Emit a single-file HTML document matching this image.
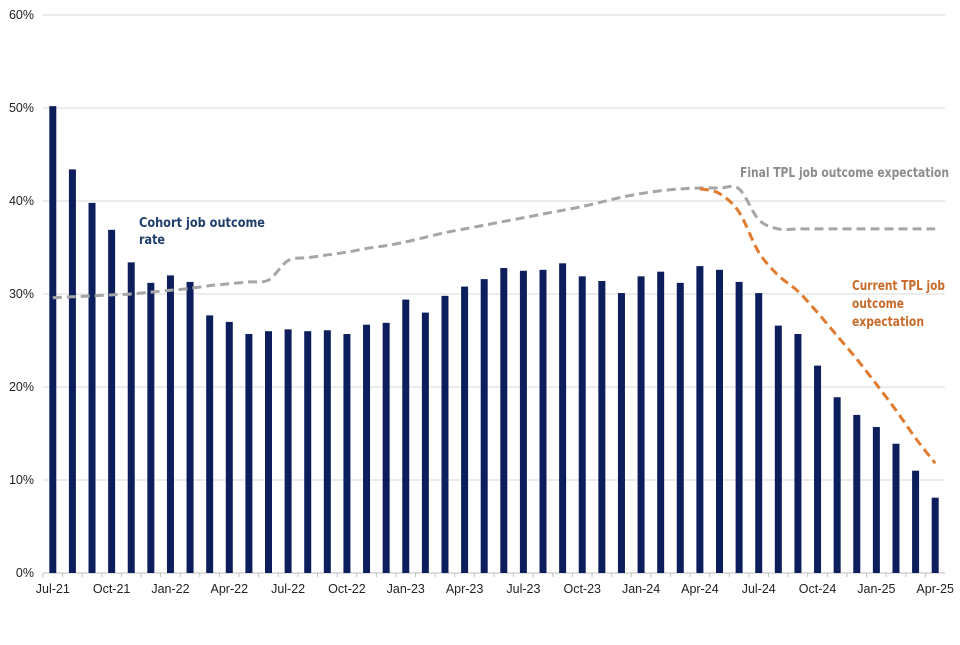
<!DOCTYPE html>
<html><head><meta charset="utf-8"><style>
body{margin:0;background:#fff;}
svg text{font-family:"Liberation Sans",Arial,sans-serif;}
.lab{font-family:"DejaVu Sans Condensed","Liberation Sans",sans-serif;font-size:13px;font-weight:bold;}
</style></head><body>
<svg id="chart" width="960" height="640" xmlns="http://www.w3.org/2000/svg">
<g id="grid"></g>
<g id="yaxis"></g>
<g id="bars"></g>
<g id="lines"></g>
<g id="xaxis"></g>
<text class="lab" x="139" y="227" fill="#1f3f6e" textLength="126" lengthAdjust="spacingAndGlyphs">Cohort job outcome</text>
<text class="lab" x="139" y="244" fill="#1f3f6e" textLength="26" lengthAdjust="spacingAndGlyphs">rate</text>
<text class="lab" x="740" y="177" fill="#8c8c8c" textLength="209" lengthAdjust="spacingAndGlyphs">Final TPL job outcome expectation</text>
<text class="lab" x="852" y="290" fill="#c86b2a" textLength="93" lengthAdjust="spacingAndGlyphs">Current TPL job</text>
<text class="lab" x="852" y="308" fill="#c86b2a" textLength="52" lengthAdjust="spacingAndGlyphs">outcome</text>
<text class="lab" x="852" y="326" fill="#c86b2a" textLength="72" lengthAdjust="spacingAndGlyphs">expectation</text>
</svg>
<script>
const months=["Jul-21","Aug-21","Sep-21","Oct-21","Nov-21","Dec-21","Jan-22","Feb-22","Mar-22","Apr-22","May-22","Jun-22","Jul-22","Aug-22","Sep-22","Oct-22","Nov-22","Dec-22","Jan-23","Feb-23","Mar-23","Apr-23","May-23","Jun-23","Jul-23","Aug-23","Sep-23","Oct-23","Nov-23","Dec-23","Jan-24","Feb-24","Mar-24","Apr-24","May-24","Jun-24","Jul-24","Aug-24","Sep-24","Oct-24","Nov-24","Dec-24","Jan-25","Feb-25","Mar-25","Apr-25"];
const cohortRate=[50.2,43.4,39.8,36.9,33.4,31.2,32.0,31.3,27.7,27.0,25.7,26.0,26.2,26.0,26.1,25.7,26.7,26.9,29.4,28.0,29.8,30.8,31.6,32.8,32.5,32.6,33.3,31.9,31.4,30.1,31.9,32.4,31.2,33.0,32.6,31.3,30.1,26.6,25.7,22.3,18.9,17.0,15.7,13.9,11.0,8.1];
const finalTPL=[29.6,29.7,29.8,29.9,30.0,30.2,30.4,30.6,30.9,31.1,31.3,31.5,33.6,33.9,34.2,34.5,34.9,35.2,35.6,36.1,36.6,37.0,37.4,37.8,38.2,38.6,39.0,39.4,39.9,40.4,40.8,41.1,41.3,41.4,41.4,41.3,38.0,37.0,37.0,37.0,37.0,37.0,37.0,37.0,37.0,37.0];
const currentTPL=[29.6,29.7,29.8,29.9,30.0,30.2,30.4,30.6,30.9,31.1,31.3,31.5,33.6,33.9,34.2,34.5,34.9,35.2,35.6,36.1,36.6,37.0,37.4,37.8,38.2,38.6,39.0,39.4,39.9,40.4,40.8,41.1,41.3,41.3,40.8,38.8,34.5,32.0,30.3,28.0,25.5,23.0,20.3,17.5,14.5,11.8];
const yTicks=[0,10,20,30,40,50,60];
const NS="http://www.w3.org/2000/svg";
const x0=43,x1=945,y0=573,ppu=9.3;
const step=(x1-x0)/months.length;
const X=i=>x0+step*(i+0.5);
const Y=v=>y0-v*ppu;
function mk(tag,attrs,parent){const e=document.createElementNS(NS,tag);for(const k in attrs)e.setAttribute(k,attrs[k]);parent.appendChild(e);return e;}
const grid=document.getElementById('grid'),ya=document.getElementById('yaxis'),bars=document.getElementById('bars'),lines=document.getElementById('lines'),xa=document.getElementById('xaxis');
yTicks.forEach(t=>{
  const l=mk('line',{x1:x0,x2:x1,y1:Y(t),y2:Y(t),stroke:t===0?'#bfbfbf':'#d9d9d9','stroke-width':1},grid);
  
  
  const tx=mk('text',{x:34,y:Y(t)+4,'text-anchor':'end','font-size':12.5,fill:'#222'},ya);
  tx.textContent=t+'%';
  
  
});
cohortRate.forEach((v,i)=>{
  const r=mk('rect',{x:X(i)-3.5,y:Y(v),width:7,height:v*ppu,fill:'#0c1f5c'},bars);
  
  
});
function smooth(vals,start){
  const p=vals.map((v,i)=>[X(i),Y(v)]);
  let d='M'+p[start][0]+','+p[start][1];
  for(let i=start;i<p.length-1;i++){
    const a=p[Math.max(0,i-1)],b=p[i],c=p[i+1],e=p[Math.min(p.length-1,i+2)];
    const t=0.16;
    d+=' C'+(b[0]+(c[0]-a[0])*t)+','+(b[1]+(c[1]-a[1])*t)+' '+(c[0]-(e[0]-b[0])*t)+','+(c[1]-(e[1]-b[1])*t)+' '+c[0]+','+c[1];
  }
  return d;
}
const lf=mk('path',{d:smooth(finalTPL,0),fill:'none',stroke:'#a6a6a6','stroke-width':3,'stroke-dasharray':'9,5'},lines);


const lc=mk('path',{d:smooth(currentTPL,33),fill:'none',stroke:'#e07b2f','stroke-width':3,'stroke-dasharray':'9,5'},lines);


months.forEach((m,i)=>{
  const tk=mk('line',{x1:x0+step*i,x2:x0+step*i,y1:y0,y2:y0+4,stroke:'#bfbfbf'},xa);
  
  
  if(i%3===0){
    const t=mk('text',{x:X(i),y:y0+20,'text-anchor':'middle','font-size':12.5,fill:'#222'},xa);
    t.textContent=m;
    
    
  }
});
</script>
</body></html>
